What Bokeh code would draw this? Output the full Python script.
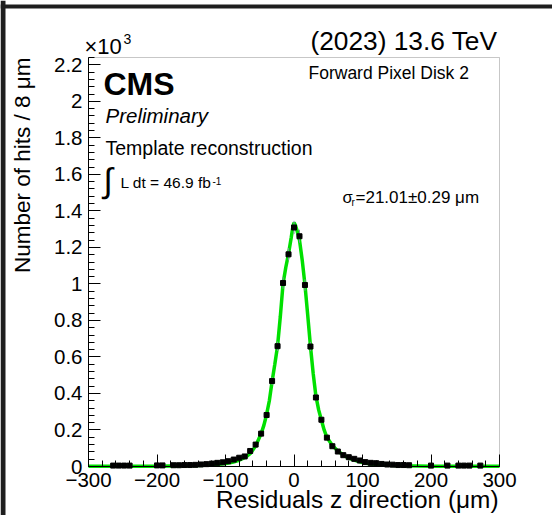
import numpy as np
from bokeh.plotting import figure
from bokeh.models import Range1d, FixedTicker, CustomJSTickFormatter, Label, BoxAnnotation, Span
from bokeh.embed import file_html
from bokeh.resources import INLINE

# ---------------- data ----------------
bin_centers = [-264, -256, -248, -240, -200, -192, -176, -168, -160, -152, -144,
               -136, -128, -120, -112, -104, -96, -88, -80, -72, -64, -56, -48,
               -40, -32, -24, -16, -8, 0, 8, 16, 24, 32, 40, 48, 56, 64, 72, 80,
               88, 96, 104, 112, 120, 128, 136, 144, 152, 160, 168, 200, 224,
               240, 248, 256, 272]
bin_counts = [5, 5, 5, 5, 6, 6, 7, 7, 8, 8, 9,
              11, 13, 16, 20, 23, 29, 38, 48, 55, 85, 120, 180,
              282, 468, 659, 1005, 1162, 1309, 1261, 994, 657, 378, 256, 158, 111, 82, 62, 51,
              42, 33, 24, 20, 18, 14, 11, 10, 8, 8, 7, 5, 5,
              5, 5, 5, 5]

fit_x = [-300, -250, -200, -160, -130, -110, -100, -90, -80, -70, -64, -56, -48,
         -44, -40, -36, -32, -28, -24, -20, -16, -12, -8, -4, -2, 0, 2, 4, 8,
         12, 16, 20, 24, 28, 32, 36, 40, 44, 48, 56, 64, 72, 80, 90, 100, 110,
         130, 160, 200, 250, 300]
fit_y = [1, 1, 2, 4, 7, 12, 16, 23, 34, 52, 70, 112, 180,
         225, 285, 360, 465, 560, 660, 820, 1000, 1090, 1165, 1255, 1305, 1335, 1322, 1298, 1240,
         1130, 995, 830, 660, 510, 385, 310, 255, 200, 160, 115, 85, 62, 46, 32, 22, 15,
         8, 4, 2, 1, 1]

x_ticks = [-300, -200, -100, 0, 100, 200, 300]
y_ticks = [0, 200, 400, 600, 800, 1000, 1200, 1400, 1600, 1800, 2000, 2200]
BIN_HALF = 4

# ---------------- layout ----------------
W, H = 552, 515
FL, FR, FT, FB = 88, 499, 57, 466          # ROOT frame in page pixels
X0, X1, Y0, Y1 = -300, 300, 0, 2240
FONT = "Liberation Sans"
K_BASE = 0.37                              # label baseline correction (fraction of font size)

sx = (FR - FL) / (X1 - X0)
sy = (FB - FT) / (Y1 - Y0)
xr = Range1d(X0 - FL / sx, X1 + (W - FR) / sx)
yr = Range1d(Y0 - (H - FB) / sy, Y1 + FT / sy)


def to_data(px, py):
    return X0 + (px - FL) / sx, Y0 + (FB - py) / sy


p = figure(width=W, height=H, x_range=xr, y_range=yr,
           output_backend="svg", toolbar_location=None,
           min_border=0, min_border_left=0, min_border_right=0,
           min_border_top=0, min_border_bottom=0)
p.background_fill_color = "white"
p.border_fill_color = "white"
p.outline_line_color = None
p.xgrid.visible = False
p.ygrid.visible = False

minor_x = list(range(-300, 301, 20))
minor_y = list(range(0, 2241, 40))
p.xaxis.ticker = FixedTicker(ticks=x_ticks, minor_ticks=minor_x)
p.yaxis.ticker = FixedTicker(ticks=y_ticks, minor_ticks=minor_y)
p.xaxis.formatter = CustomJSTickFormatter(
    code="return tick < 0 ? '\u2212' + Math.abs(tick) : String(tick);")
p.yaxis.formatter = CustomJSTickFormatter(
    code="return (tick/1000).toFixed(1).replace(/\\.0$/, '');")
p.xaxis.fixed_location = Y0
p.xaxis.bounds = (X0, X1)
p.yaxis.fixed_location = X0
p.yaxis.bounds = (Y0, Y1)
for ax in (p.xaxis, p.yaxis):
    ax.major_tick_in = 12
    ax.major_tick_out = 0
    ax.minor_tick_in = 6
    ax.minor_tick_out = 0
    ax.axis_line_color = "black"
    ax.major_tick_line_color = "black"
    ax.minor_tick_line_color = "black"
    ax.major_label_text_font = FONT
    ax.major_label_text_font_size = "20.5px"
    ax.major_label_text_color = "black"
p.xaxis.major_label_standoff = 6
p.yaxis.major_label_standoff = 6

# ROOT frame box
p.add_layout(BoxAnnotation(left=X0, right=X1, bottom=Y0, top=Y1, fill_alpha=0,
                           fill_color=None, line_color="#444444", line_width=1, level="underlay"))
# dark page border (top and left edges of the screenshot)
bl, _ = to_data(2.5, 0)
_, bt = to_data(0, 6)
p.add_layout(Span(location=bl, dimension="height", line_color="#1e1e1e", line_width=5,
                  level="overlay"))
p.add_layout(Span(location=bt, dimension="width", line_color="#1e1e1e", line_width=4,
                  level="overlay"))

# ---------------- glyphs ----------------
bx = np.array(bin_centers, dtype=float)
by = np.array(bin_counts, dtype=float)
err = np.sqrt(by)

p.line(fit_x, fit_y, line_color="#00e000", line_width=3.5)
p.segment(x0=bx - BIN_HALF, x1=bx + BIN_HALF, y0=by, y1=by, line_color="#7f8fa6", line_width=1)
p.segment(x0=bx, x1=bx, y0=by - err, y1=by + err, line_color="#7f8fa6", line_width=1)
p.scatter(bx, by, marker="square", size=5, fill_color="black", line_color="black")


# ---------------- texts ----------------
def label(text, px, py, size, align="left", style="normal", vertical=False):
    # (px, py): wanted baseline anchor in page pixels
    if vertical:
        px = px - K_BASE * size
        angle = np.pi / 2
    else:
        py = py - K_BASE * size
        angle = 0.0
    x, y = to_data(px, py)
    p.add_layout(Label(x=x, y=y, text=text, text_font=FONT, text_font_size=f"{size}px",
                       text_align=align, text_baseline="alphabetic", text_font_style=style,
                       angle=angle, text_color="black"))


label("\u00d710", 84, 54, 22)
label("3", 123, 44, 14)
label("(2023) 13.6 TeV", 497, 50, 26.3, align="right")
label("Forward Pixel Disk 2", 308, 79, 17.5)
label("CMS", 103, 95, 32, style="bold")
label("Preliminary", 105, 123, 20.5, style="italic")
label("Template reconstruction", 105, 155, 19.5)
label("\u222b", 103, 192, 34)
label("L dt = 46.9 fb", 120, 188, 15.5)
label("-1", 212, 184, 10)
label("\u03c3", 342, 203, 16.5)
label("r", 351, 206, 10)
label("=21.01\u00b10.29 \u03bcm", 355, 203, 17)
label("Number of hits / 8 \u03bcm", 30, 57, 22.5, align="right", vertical=True)
label("Residuals z direction (\u03bcm)", 498, 508, 24.4, align="right")

open("out.html", "w").write(file_html(p, INLINE))
